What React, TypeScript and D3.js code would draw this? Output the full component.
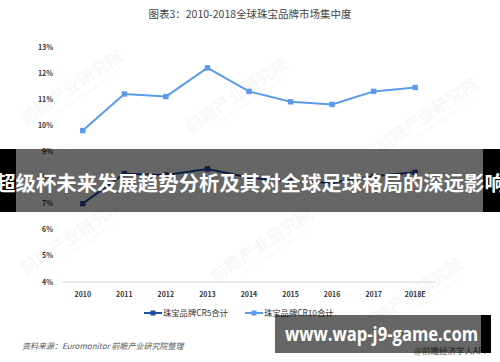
import React from 'react';
import * as d3 from 'd3';

const years = ['2010', '2011', '2012', '2013', '2014', '2015', '2016', '2017', '2018E'];
const cr5 = [7.0, 8.15, 8.1, 8.33, 8.0, 7.85, 7.8, 8.05, 8.2];
const cr10 = [9.8, 11.2, 11.1, 12.2, 11.3, 10.9, 10.8, 11.3, 11.45];
const yTicks = [4, 5, 6, 7, 8, 9, 10, 11, 12, 13];
const seriesNames = ['珠宝品牌CR5合计', '珠宝品牌CR10合计'];
const title = '图表3：2010-2018全球珠宝品牌市场集中度';
const source = '资料来源：Euromonitor 前瞻产业研究院整理';
const bannerText = '超级杯未来发展趋势分析及其对全球足球格局的深远影响';
const siteText = 'www.wap-j9-game.com';
const appText = '@前瞻经济学人APP';
const watermarks = [
  [75, 92], [240, 100], [430, 120], [75, 242], [265, 250], [415, 300],
];

const W = 500, H = 362;
const C5 = '#1f4e9e';
const C10 = '#5b9be8';
const CJK = '"Noto Sans CJK SC", "Noto Sans", sans-serif';

export default function App() {
  const x = d3.scaleBand<string>().domain(years).range([62, 436]);
  const y = d3.scaleLinear().domain([4, 13]).range([282, 47]);
  const cx = (d: string) => (x(d) as number) + x.bandwidth() / 2;
  const line = d3.line<number>().x((_, i) => cx(years[i])).y((v) => y(v));

  const series = [
    { vals: cr5, color: C5 },
    { vals: cr10, color: C10 },
  ];

  return (
    <svg width={W} height={H} style={{ position: 'absolute', left: 0, top: 0, background: '#fff' }}
      xmlns="http://www.w3.org/2000/svg">
      <rect x={0} y={0} width={W} height={H} fill="#fff" />
      {watermarks.map(([wx, wy], i) => (
        <g key={i} transform={`translate(${wx},${wy}) rotate(-34)`} opacity={0.05}>
          <text x={0} y={0} textAnchor="middle" fontFamily={CJK} fontWeight={700} fontSize={17} fill="#777">前瞻产业研究院</text>
          <text x={8} y={9} textAnchor="middle" fontFamily={CJK} fontSize={5} fill="#777">中国产业咨询领导者(股票 839599)</text>
        </g>
      ))}
      <text x={250} y={18} textAnchor="middle" fontFamily={CJK} fontSize={10.5} fill="#444">{title}</text>
      {yTicks.map((t) => (
        <text key={t} x={53} y={y(t) + 2.5} textAnchor="end" fontFamily={CJK} fontWeight={700} fontSize={7} fill="#333">{t}%</text>
      ))}
      <line x1={62} x2={436} y1={y(4)} y2={y(4)} stroke="#d9d9d9" strokeWidth={1} />
      {years.map((d) => (
        <text key={d} x={cx(d)} y={297} textAnchor="middle" fontFamily={CJK} fontWeight={700} fontSize={7} fill="#333">{d}</text>
      ))}
      {series.map((s, si) => (
        <g key={si}>
          <path d={line(s.vals) || ''} fill="none" stroke={s.color} strokeWidth={2} strokeLinejoin="round" />
          {s.vals.map((v, i) => (
            <rect key={i} x={cx(years[i]) - 2.7} y={y(v) - 2.7} width={5.4} height={5.4} fill={s.color} />
          ))}
        </g>
      ))}
      {[{ x0: 144, c: C5 }, { x0: 245, c: C10 }].map((l, i) => (
        <g key={i}>
          <line x1={l.x0} x2={l.x0 + 18} y1={313} y2={313} stroke={l.c} strokeWidth={2} />
          <rect x={l.x0 + 6.5} y={310.5} width={5} height={5} fill={l.c} />
          <text x={l.x0 + 19} y={316} fontFamily={CJK} fontSize={8.3} fill="#333">{seriesNames[i]}</text>
        </g>
      ))}
      <text x={22} y={349} fontFamily={CJK} fontStyle="italic" fontSize={8} fill="#555">{source}</text>
      <text x={489} y={354} textAnchor="end" fontFamily={CJK} fontSize={8.5} fill="#555">{appText}</text>

      <rect x={0} y={149} width={16} height={63} fill="#000" />
      <rect x={483} y={149} width={17} height={63} fill="#000" />
      <rect x={16} y={149} width={467} height={63} fill="#000" fillOpacity={0.6} />
      <text x={250} y={191} textAnchor="middle" fontFamily={CJK} fontWeight={700} fontSize={20.4} fill="#fff">{bannerText}</text>

      <rect x={275} y={315} width={206} height={38} fill="#000" fillOpacity={0.6} />
      <rect x={481} y={315} width={10} height={38} fill="#000" />
      <text x={285} y={341} fontFamily={'"Open Sans", sans-serif'} fontWeight={700} fontSize={20} fill="#fff"
        textLength={193} lengthAdjust="spacingAndGlyphs">{siteText}</text>
    </svg>
  );
}
